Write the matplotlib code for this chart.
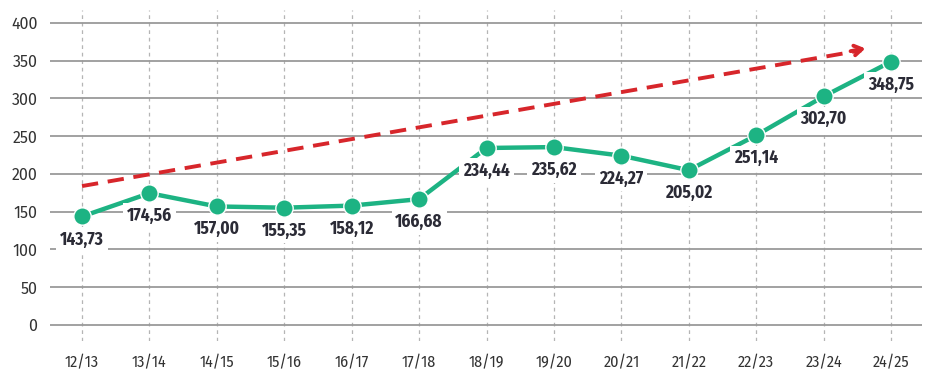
import matplotlib
matplotlib.use("Agg")
import matplotlib.pyplot as plt

seasons = ["12/13", "13/14", "14/15", "15/16", "16/17", "17/18", "18/19",
           "19/20", "20/21", "21/22", "22/23", "23/24", "24/25"]
values = [143.73, 174.56, 157.00, 155.35, 158.12, 166.68, 234.44,
          235.62, 224.27, 205.02, 251.14, 302.70, 348.75]
labels = ["143,73", "174,56", "157,00", "155,35", "158,12", "166,68", "234,44",
          "235,62", "224,27", "205,02", "251,14", "302,70", "348,75"]
y_ticks = [0, 50, 100, 150, 200, 250, 300, 350, 400]
trend_start = (0, 184)
trend_end = (11.66, 367)

GREEN = "#1db383"
RED = "#d7262b"
TEXT = "#2b2b36"
COND = ["Fira Sans Condensed", "DejaVu Sans"]
FIRA = ["Fira Sans", "DejaVu Sans"]

fig = plt.figure(figsize=(9.48, 3.89), dpi=100)
ax = fig.add_axes([50/948, 1-341/389, 872/948, 331/389])
ax.set_xlim(-0.475, 12.46)
ax.set_ylim(-21.2, 417.2)

for yt in y_ticks:
    ax.axhline(yt, color="#9a9a9a", lw=1.3, zorder=1)
for i in range(len(seasons)):
    ax.axvline(i, color="#b5b5b5", lw=0.9, ls=(0, (3, 3)), zorder=0.5)

ax.plot(range(len(values)), values, color=GREEN, lw=3.2, zorder=3,
        solid_capstyle="round")
ax.plot(range(len(values)), values, "o", color=GREEN, ms=12.5,
        markeredgecolor="white", markeredgewidth=1.0, zorder=4)

# trend arrow
ax.plot([trend_start[0], trend_end[0] - 0.1], [trend_start[1], trend_end[1] - 3.2],
        color=RED, lw=2.8, ls=(0, (4.2, 2.5)), zorder=2)
ax.annotate("", xy=trend_end, xytext=(trend_end[0] - 0.3, trend_end[1] - 5),
            arrowprops=dict(arrowstyle="->,head_length=0.55,head_width=0.35",
                            color=RED, lw=2.8), zorder=2)

for i, (v, lab) in enumerate(zip(values, labels)):
    ax.annotate(lab, (i, v), xytext=(0, -16.5), textcoords="offset points",
                ha="center", va="center", fontsize=12.5, fontweight="bold",
                family=COND, color=TEXT, zorder=3.5,
                bbox=dict(boxstyle="square,pad=0.22", fc="white", ec="none"))

ax.set_yticks(y_ticks)
ax.set_yticklabels([str(t) for t in y_ticks], fontsize=11.5, color="#333333",
                   family=FIRA)
ax.set_xticks(range(len(seasons)))
ax.set_xticklabels(seasons, fontsize=11.5, color="#333333", family=COND)
ax.tick_params(axis="both", length=0)
ax.tick_params(axis="y", pad=9)
ax.tick_params(axis="x", pad=10)
for s in ax.spines.values():
    s.set_visible(False)

fig.savefig("out.png", dpi=100)
